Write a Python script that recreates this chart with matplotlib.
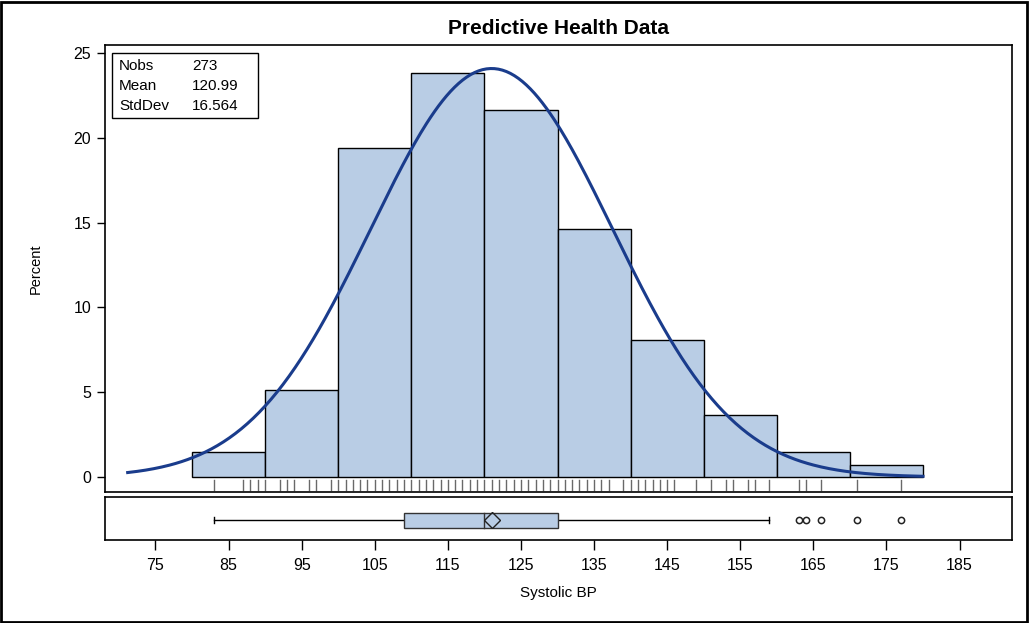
import numpy as np
import matplotlib
matplotlib.use("Agg")
import matplotlib.pyplot as plt
from matplotlib.patches import Rectangle
import matplotlib.transforms as mtransforms

# ---- data ----
bin_edges = [80, 90, 100, 110, 120, 130, 140, 150, 160, 170, 180]
bin_percent = [1.47, 5.13, 19.41, 23.81, 21.61, 14.65, 8.06, 3.66, 1.47, 0.73]
n_obs = 273
mean_bp = 120.99
std_bp = 16.564
curve_range = [71.2, 180.0]
rug_values = ([83, 87, 88, 89, 90, 92, 93, 94, 96, 97, 99] + list(range(100, 138))
              + list(range(139, 147)) + [149, 151, 153, 154, 156, 157, 159, 163, 164, 166, 171, 177])
box_whisker_low = 83
box_q1 = 109
box_median = 120
box_q3 = 130
box_whisker_high = 159
outliers = [163, 164, 166, 171, 177]
x_ticks = [75, 85, 95, 105, 115, 125, 135, 145, 155, 165, 175, 185]
y_ticks = [0, 5, 10, 15, 20, 25]

FILL = '#b9cde5'
CURVE = '#1a3c8c'
narrow = ['Liberation Sans Narrow', 'Liberation Sans', 'DejaVu Sans']
sans = ['Liberation Sans', 'DejaVu Sans']

W, H = 1029, 623
fig = plt.figure(figsize=(W / 100, H / 100), dpi=100)

def fx(px):
    return px / W

def fy(py):
    return 1 - py / H

L, R = 105, 1012
ax = fig.add_axes([fx(L), fy(492), fx(R) - fx(L), fy(45) - fy(492)])
axb = fig.add_axes([fx(L), fy(540), fx(R) - fx(L), fy(497) - fy(540)], sharex=ax)

xlo = 80 - (192 - L) / 7.31
xhi = 80 + (R - 192) / 7.31
ax.set_xlim(xlo, xhi)
ax.set_ylim(-15 / 16.96, 25 + 8 / 16.96)

# histogram bars
lefts = bin_edges[:-1]
widths = np.diff(bin_edges)
ax.bar(lefts, bin_percent, width=widths, align='edge', color=FILL,
       edgecolor='black', linewidth=1.0, zorder=2)

# normal curve
xs = np.linspace(curve_range[0], curve_range[1], 400)
ys = 100 * 10 * np.exp(-0.5 * ((xs - mean_bp) / std_bp) ** 2) / (std_bp * np.sqrt(2 * np.pi))
ax.plot(xs, ys, color=CURVE, linewidth=2.2, zorder=3)

# rug
trans = mtransforms.blended_transform_factory(ax.transData, ax.transAxes)
for v in rug_values:
    ax.plot([v, v], [0.004, 0.027], transform=trans, color='#444444',
            linewidth=1.0, alpha=0.8, zorder=2)

ax.set_yticks(y_ticks)
ax.set_yticklabels([str(t) for t in y_ticks], family=narrow, fontsize=11.5)
ax.tick_params(axis='y', direction='out', length=6, width=1, pad=4)
ax.tick_params(axis='x', bottom=False, labelbottom=False)
for s in ax.spines.values():
    s.set_linewidth(1.2)
ax.set_ylabel('Percent', family=narrow, fontsize=10.5, labelpad=22)
ax.set_title('Predictive Health Data', family=sans, fontsize=15,
             fontweight='bold', pad=8)

# stats box
ax.add_patch(Rectangle(((112 - L) / 907, (492 - 118) / 447), (258 - 112) / 907,
                       (118 - 53) / 447, transform=ax.transAxes, fill=False,
                       edgecolor='black', linewidth=1.0, zorder=5))
labels = ['Nobs', 'Mean', 'StdDev']
vals = [str(n_obs), f'{mean_bp:.2f}', f'{std_bp:.3f}']
for i, (lab, val) in enumerate(zip(labels, vals)):
    yy = (492 - (66 + 20 * i)) / 447
    ax.text((119 - L) / 907, yy, lab, transform=ax.transAxes, va='center',
            ha='left', family=sans, fontsize=11, zorder=6)
    ax.text((192 - L) / 907, yy, val, transform=ax.transAxes, va='center',
            ha='left', family=sans, fontsize=11, zorder=6)

# box plot panel
axb.set_ylim(0, 1)
yc = (540 - 520) / 43
bh = 15 / 43
axb.plot([box_whisker_low, box_q1], [yc, yc], color='black', linewidth=1.0)
axb.plot([box_q3, box_whisker_high], [yc, yc], color='black', linewidth=1.0)
for v in [box_whisker_low, box_whisker_high]:
    axb.plot([v, v], [yc - 0.08, yc + 0.08], color='black', linewidth=1.0)
axb.add_patch(Rectangle((box_q1, yc - bh / 2), box_q3 - box_q1, bh,
                        facecolor=FILL, edgecolor='#333333', linewidth=1.0, zorder=2))
axb.plot([box_median, box_median], [yc - bh / 2, yc + bh / 2], color='#333333',
         linewidth=1.0, zorder=3)
axb.plot([mean_bp], [yc], marker='D', markersize=8, markerfacecolor='none',
         markeredgecolor='#222222', markeredgewidth=1.0, zorder=4)
axb.plot(outliers, [yc] * len(outliers), linestyle='none', marker='o', markersize=4.5,
         markerfacecolor='none', markeredgecolor='#222222', markeredgewidth=1.1, zorder=4)
axb.set_yticks([])
for s in axb.spines.values():
    s.set_linewidth(1.2)
axb.set_xticks(x_ticks)
axb.set_xticklabels([str(t) for t in x_ticks], family=narrow, fontsize=11.5)
axb.tick_params(axis='x', direction='out', length=7, width=1, pad=6)
axb.set_xlabel('Systolic BP', family=sans, fontsize=11, labelpad=9)

# outer frame
fig.patches.append(Rectangle((0.001, 0.002), 0.997, 0.995, transform=fig.transFigure,
                             fill=False, edgecolor='black', linewidth=2.0))

fig.savefig('out.png', dpi=100)
